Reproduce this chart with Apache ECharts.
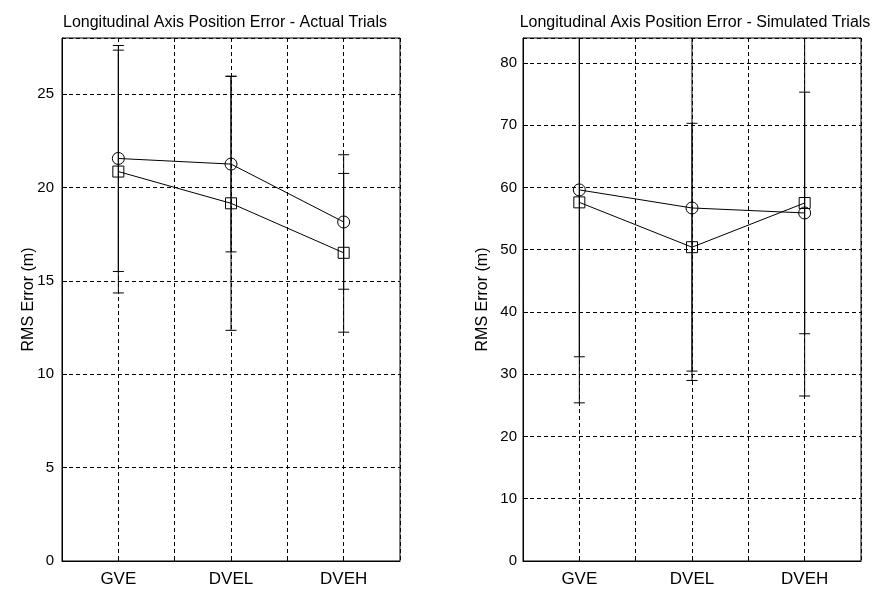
<!DOCTYPE html>
<html>
<head>
<meta charset="utf-8">
<script src="https://cdn.jsdelivr.net/npm/echarts@6/dist/echarts.min.js"></script>
<style>
  html, body { margin: 0; padding: 0; background: #fff; }
  #chart { width: 877px; height: 591px; }
</style>
</head>
<body>
<div id="chart"></div>
<script>
// categories along x (placed at 1, 2, 3)
var categories = ['GVE', 'DVEL', 'DVEH'];

// actual trials (left panel)
var actualCircle = [21.55, 21.25, 18.15];
var actualCircleErr = [6.05, 4.7, 3.6];
var actualSquare = [20.85, 19.15, 16.5];
var actualSquareErr = [6.5, 6.8, 4.25];

// simulated trials (right panel)
var simCircle = [59.6, 56.7, 55.9];
var simCircleErr = [26.8, 27.7, 19.4];
var simSquare = [57.6, 50.4, 57.5];
var simSquareErr = [32.2, 19.9, 31.0];

var FONT = 'Liberation Sans, Arial, sans-serif';

function toPoints(values) {
  return values.map(function (v, i) { return [i + 1, v]; });
}

/**
 * error bar series, clipped at the top of the axis
 */
function errorSeries(idx, values, errs, yMax) {
  var data = values.map(function (v, i) { return [i + 1, v, errs[i]]; });
  return {
    type: 'custom',
    xAxisIndex: idx,
    yAxisIndex: idx,
    silent: true,
    z: 1,
    data: data,
    renderItem: function (params, api) {
      var x = api.value(0), y = api.value(1), e = api.value(2);
      var hi = Math.min(y + e, yMax);
      var lo = Math.max(y - e, 0);
      var pHi = api.coord([x, hi]);
      var pLo = api.coord([x, lo]);
      var style = { stroke: '#000', lineWidth: 1 };
      var kids = [{
        type: 'line',
        shape: { x1: pHi[0], y1: pHi[1], x2: pLo[0], y2: pLo[1] },
        style: style
      }, {
        type: 'line',
        shape: { x1: pLo[0] - 5.5, y1: pLo[1], x2: pLo[0] + 5.5, y2: pLo[1] },
        style: style
      }];
      if (y + e <= yMax) {
        kids.push({
          type: 'line',
          shape: { x1: pHi[0] - 5.5, y1: pHi[1], x2: pHi[0] + 5.5, y2: pHi[1] },
          style: style
        });
      }
      return { type: 'group', children: kids };
    }
  };
}

function lineSeries(idx, values, symbol) {
  return {
    type: 'line',
    xAxisIndex: idx,
    yAxisIndex: idx,
    data: toPoints(values),
    symbol: symbol,
    symbolSize: symbol === 'rect' ? 11 : 12,
    showSymbol: true,
    z: 3,
    lineStyle: { color: '#000', width: 1 },
    itemStyle: { color: 'rgba(255,255,255,0)', borderColor: '#000', borderWidth: 1 },
    animation: false
  };
}

function xAxis(idx) {
  return {
    type: 'value',
    gridIndex: idx,
    min: 0.5,
    max: 3.5,
    interval: 0.5,
    axisLine: { show: true, lineStyle: { color: '#000', width: 1 } },
    axisTick: { show: true, inside: true, length: 5, lineStyle: { color: '#000' } },
    axisLabel: {
      color: '#000', fontFamily: FONT, fontSize: 17, margin: 10,
      showMinLabel: false, showMaxLabel: false,
      formatter: function (v) { return Number.isInteger(v) ? categories[v - 1] : ''; }
    },
    splitLine: { show: true, lineStyle: { color: '#000', type: [4, 3], width: 1 } }
  };
}

function yAxis(idx, max, interval, labelMargin, nameGap) {
  return {
    type: 'value',
    gridIndex: idx,
    min: 0,
    max: max,
    interval: interval,
    name: 'RMS Error (m)',
    nameLocation: 'middle',
    nameGap: nameGap,
    nameMoveOverlap: false,
    nameTextStyle: { color: '#000', fontFamily: FONT, fontSize: 16 },
    axisLine: { show: true, lineStyle: { color: '#000', width: 1 } },
    axisTick: { show: true, inside: true, length: 5, lineStyle: { color: '#000' } },
    axisLabel: { color: '#000', fontFamily: FONT, fontSize: 15, margin: labelMargin, showMaxLabel: false },
    splitLine: { show: true, lineStyle: { color: '#000', type: [4, 3], width: 1 } }
  };
}

var chart = echarts.init(document.getElementById('chart'));
chart.setOption({
  backgroundColor: '#fff',
  animation: false,
  title: [{
    text: 'Longitudinal Axis Position Error - Actual Trials',
    left: 220, top: 10, textAlign: 'center',
    textStyle: { color: '#000', fontFamily: FONT, fontSize: 16, fontWeight: 'normal' }
  }, {
    text: 'Longitudinal Axis Position Error - Simulated Trials',
    left: 690, top: 10, textAlign: 'center',
    textStyle: { color: '#000', fontFamily: FONT, fontSize: 16, fontWeight: 'normal' }
  }],
  grid: [
    { left: 62, top: 38, width: 338, height: 523, show: true, borderColor: '#000', borderWidth: 1, backgroundColor: 'transparent' },
    { left: 523, top: 38, width: 338, height: 523, show: true, borderColor: '#000', borderWidth: 1, backgroundColor: 'transparent' }
  ],
  xAxis: [xAxis(0), xAxis(1)],
  yAxis: [yAxis(0, 28, 5, 8, 25), yAxis(1, 84, 10, 6, 32)],
  series: [
    errorSeries(0, actualCircle, actualCircleErr, 28),
    errorSeries(0, actualSquare, actualSquareErr, 28),
    lineSeries(0, actualCircle, 'circle'),
    lineSeries(0, actualSquare, 'rect'),
    errorSeries(1, simCircle, simCircleErr, 84),
    errorSeries(1, simSquare, simSquareErr, 84),
    lineSeries(1, simCircle, 'circle'),
    lineSeries(1, simSquare, 'rect')
  ]
});
</script>
</body>
</html>
